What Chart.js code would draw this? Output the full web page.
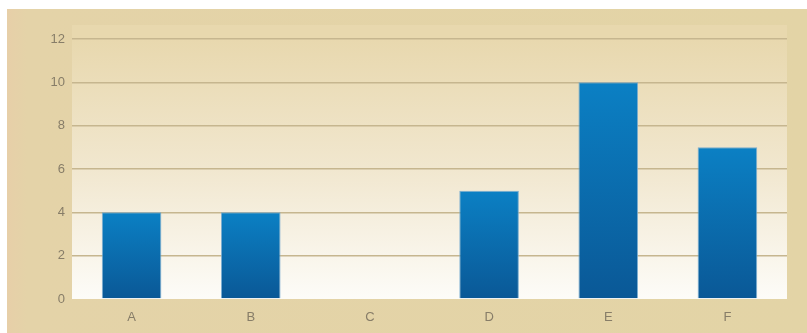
<!DOCTYPE html>
<html>
<head>
<meta charset="utf-8">
<script src="https://cdn.jsdelivr.net/npm/chart.js@4/dist/chart.umd.min.js"></script>
<style>
html,body{margin:0;padding:0;background:#fff;}
#wrap{width:807px;height:333px;position:relative;}
</style>
</head>
<body>
<div id="wrap"><canvas id="c" width="807" height="333"></canvas></div>
<script>
const categories = ["A", "B", "C", "D", "E", "F"];
const values = [4, 4, 0, 5, 10, 7];
const yTicks = [0, 2, 4, 6, 8, 10, 12];

const bgPlugin = {
  id: 'bg',
  beforeDraw(chart) {
    const ctx = chart.ctx;
    const ca = chart.chartArea;
    ctx.save();
    const hg = ctx.createLinearGradient(7, 0, 807, 0);
    hg.addColorStop(0, '#e7cfa8');
    hg.addColorStop(0.025, '#e4d3a8');
    hg.addColorStop(1, '#e3d4a6');
    ctx.fillStyle = hg;
    ctx.fillRect(7, 9, 800, 324);
    const g = ctx.createLinearGradient(0, ca.top, 0, ca.bottom);
    g.addColorStop(0, '#e8d8ae');
    g.addColorStop(0.5, '#f1e7cf');
    g.addColorStop(1, '#fdfcf8');
    ctx.fillStyle = g;
    ctx.fillRect(ca.left, ca.top - 14, ca.right - ca.left, ca.bottom - ca.top + 14);
    ctx.restore();
  }
};

new Chart(document.getElementById('c'), {
  type: 'bar',
  data: {
    labels: categories,
    datasets: [{
      data: values,
      backgroundColor: (context) => {
        const chart = context.chart;
        const ys = chart.scales.y;
        if (!ys || !chart.chartArea) return '#0a6eb0';
        const top = ys.getPixelForValue(context.raw);
        const base = ys.getPixelForValue(0);
        if (!isFinite(top) || top >= base) return '#0a6eb0';
        const g = chart.ctx.createLinearGradient(0, top, 0, base);
        g.addColorStop(0, '#0b80c4');
        g.addColorStop(1, '#0a5896');
        return g;
      },
      borderColor: 'rgba(110,165,205,0.9)',
      borderWidth: 1,
      categoryPercentage: 1,
      barPercentage: 0.5
    }]
  },
  options: {
    responsive: false,
    animation: false,
    layout: { padding: { top: 39, right: 20, left: 0, bottom: 0 } },
    plugins: { legend: { display: false }, tooltip: { enabled: false } },
    scales: {
      x: {
        grid: { display: false },
        border: { display: false },
        ticks: { color: '#877d68', font: { family: 'Liberation Sans, Arial, sans-serif', size: 13 }, padding: 3 },
        afterFit(scale) { scale.height = 34; }
      },
      y: {
        min: 0, max: 12,
        afterBuildTicks(scale) { scale.ticks = yTicks.map(v => ({ value: v })); },
        grid: {
          color: (c) => (c.tick && c.tick.value === 0) ? 'rgba(0,0,0,0)' : '#c6b68f',
          lineWidth: 1.5, drawTicks: false
        },
        border: { display: false },
        ticks: { color: '#877d68', font: { family: 'Liberation Sans, Arial, sans-serif', size: 13 }, padding: 7 },
        afterFit(scale) { scale.width = 72; }
      }
    }
  },
  plugins: [bgPlugin]
});
</script>
</body>
</html>
